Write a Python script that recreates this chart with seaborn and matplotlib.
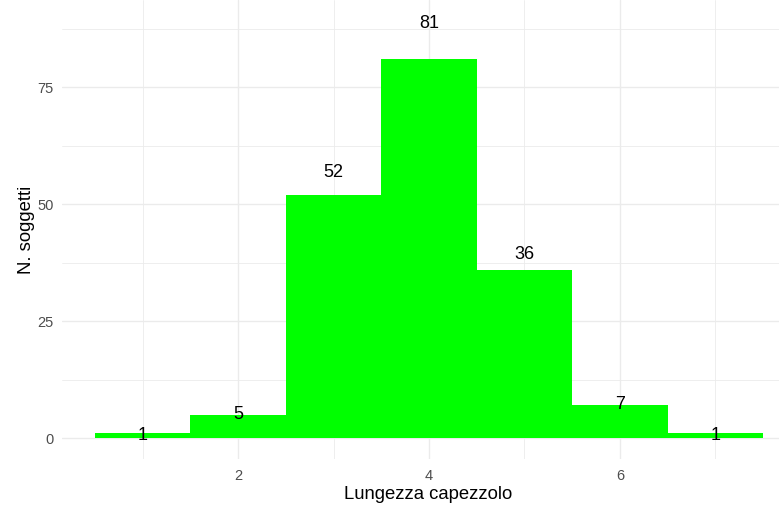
import matplotlib
matplotlib.use("Agg")
import matplotlib.pyplot as plt
import seaborn as sns
import numpy as np
import pandas as pd

# lunghezza capezzolo (classi) e numero di soggetti
lunghezza = [1, 2, 3, 4, 5, 6, 7]
n_soggetti = [1, 5, 52, 81, 36, 7, 1]

df = pd.DataFrame({"lunghezza": lunghezza, "n": n_soggetti})

sns.set_style("white")
plt.rcParams['font.family'] = ['Liberation Sans', 'DejaVu Sans']

W, H = 779, 505
fig = plt.figure(figsize=(W / 100, H / 100), dpi=100)
ax = fig.add_axes([62 / W, (H - 459) / H, (W - 62) / W, 459 / H])

sns.histplot(data=df, x="lunghezza", weights="n", discrete=True,
             color="#00FF00", alpha=1, edgecolor="none", linewidth=0, ax=ax)

# etichette sopra le barre
for x, n in zip(lunghezza, n_soggetti):
    ax.text(x, n * 1.1, str(n), ha="center", va="center_baseline",
            fontsize=13, color="black")

ax.set_xlim(0.1535, 7.668)
ax.set_ylim(-4.45, 93.6)
ax.set_xticks([2, 4, 6])
ax.set_xticks([1, 3, 5, 7], minor=True)
ax.set_yticks([0, 25, 50, 75])
ax.set_yticks([12.5, 37.5, 62.5, 87.5], minor=True)
ax.grid(True, which="major", color="#EBEBEB", linewidth=1.0)
ax.grid(True, which="minor", color="#EBEBEB", linewidth=0.6)
ax.set_axisbelow(True)
for s in ax.spines.values():
    s.set_visible(False)
ax.tick_params(which="both", length=0, labelsize=10.5, labelcolor="#4D4D4D", pad=6)
ax.tick_params(axis="x", pad=7)

ax.set_xlabel("Lungezza capezzolo", fontsize=13.3, color="black")
ax.set_ylabel("N. soggetti", fontsize=13.3, color="black")
ax.xaxis.set_label_coords(0.5105, -0.058)
ax.yaxis.set_label_coords(-0.038, 0.5)

fig.savefig("out.png", dpi=100)
